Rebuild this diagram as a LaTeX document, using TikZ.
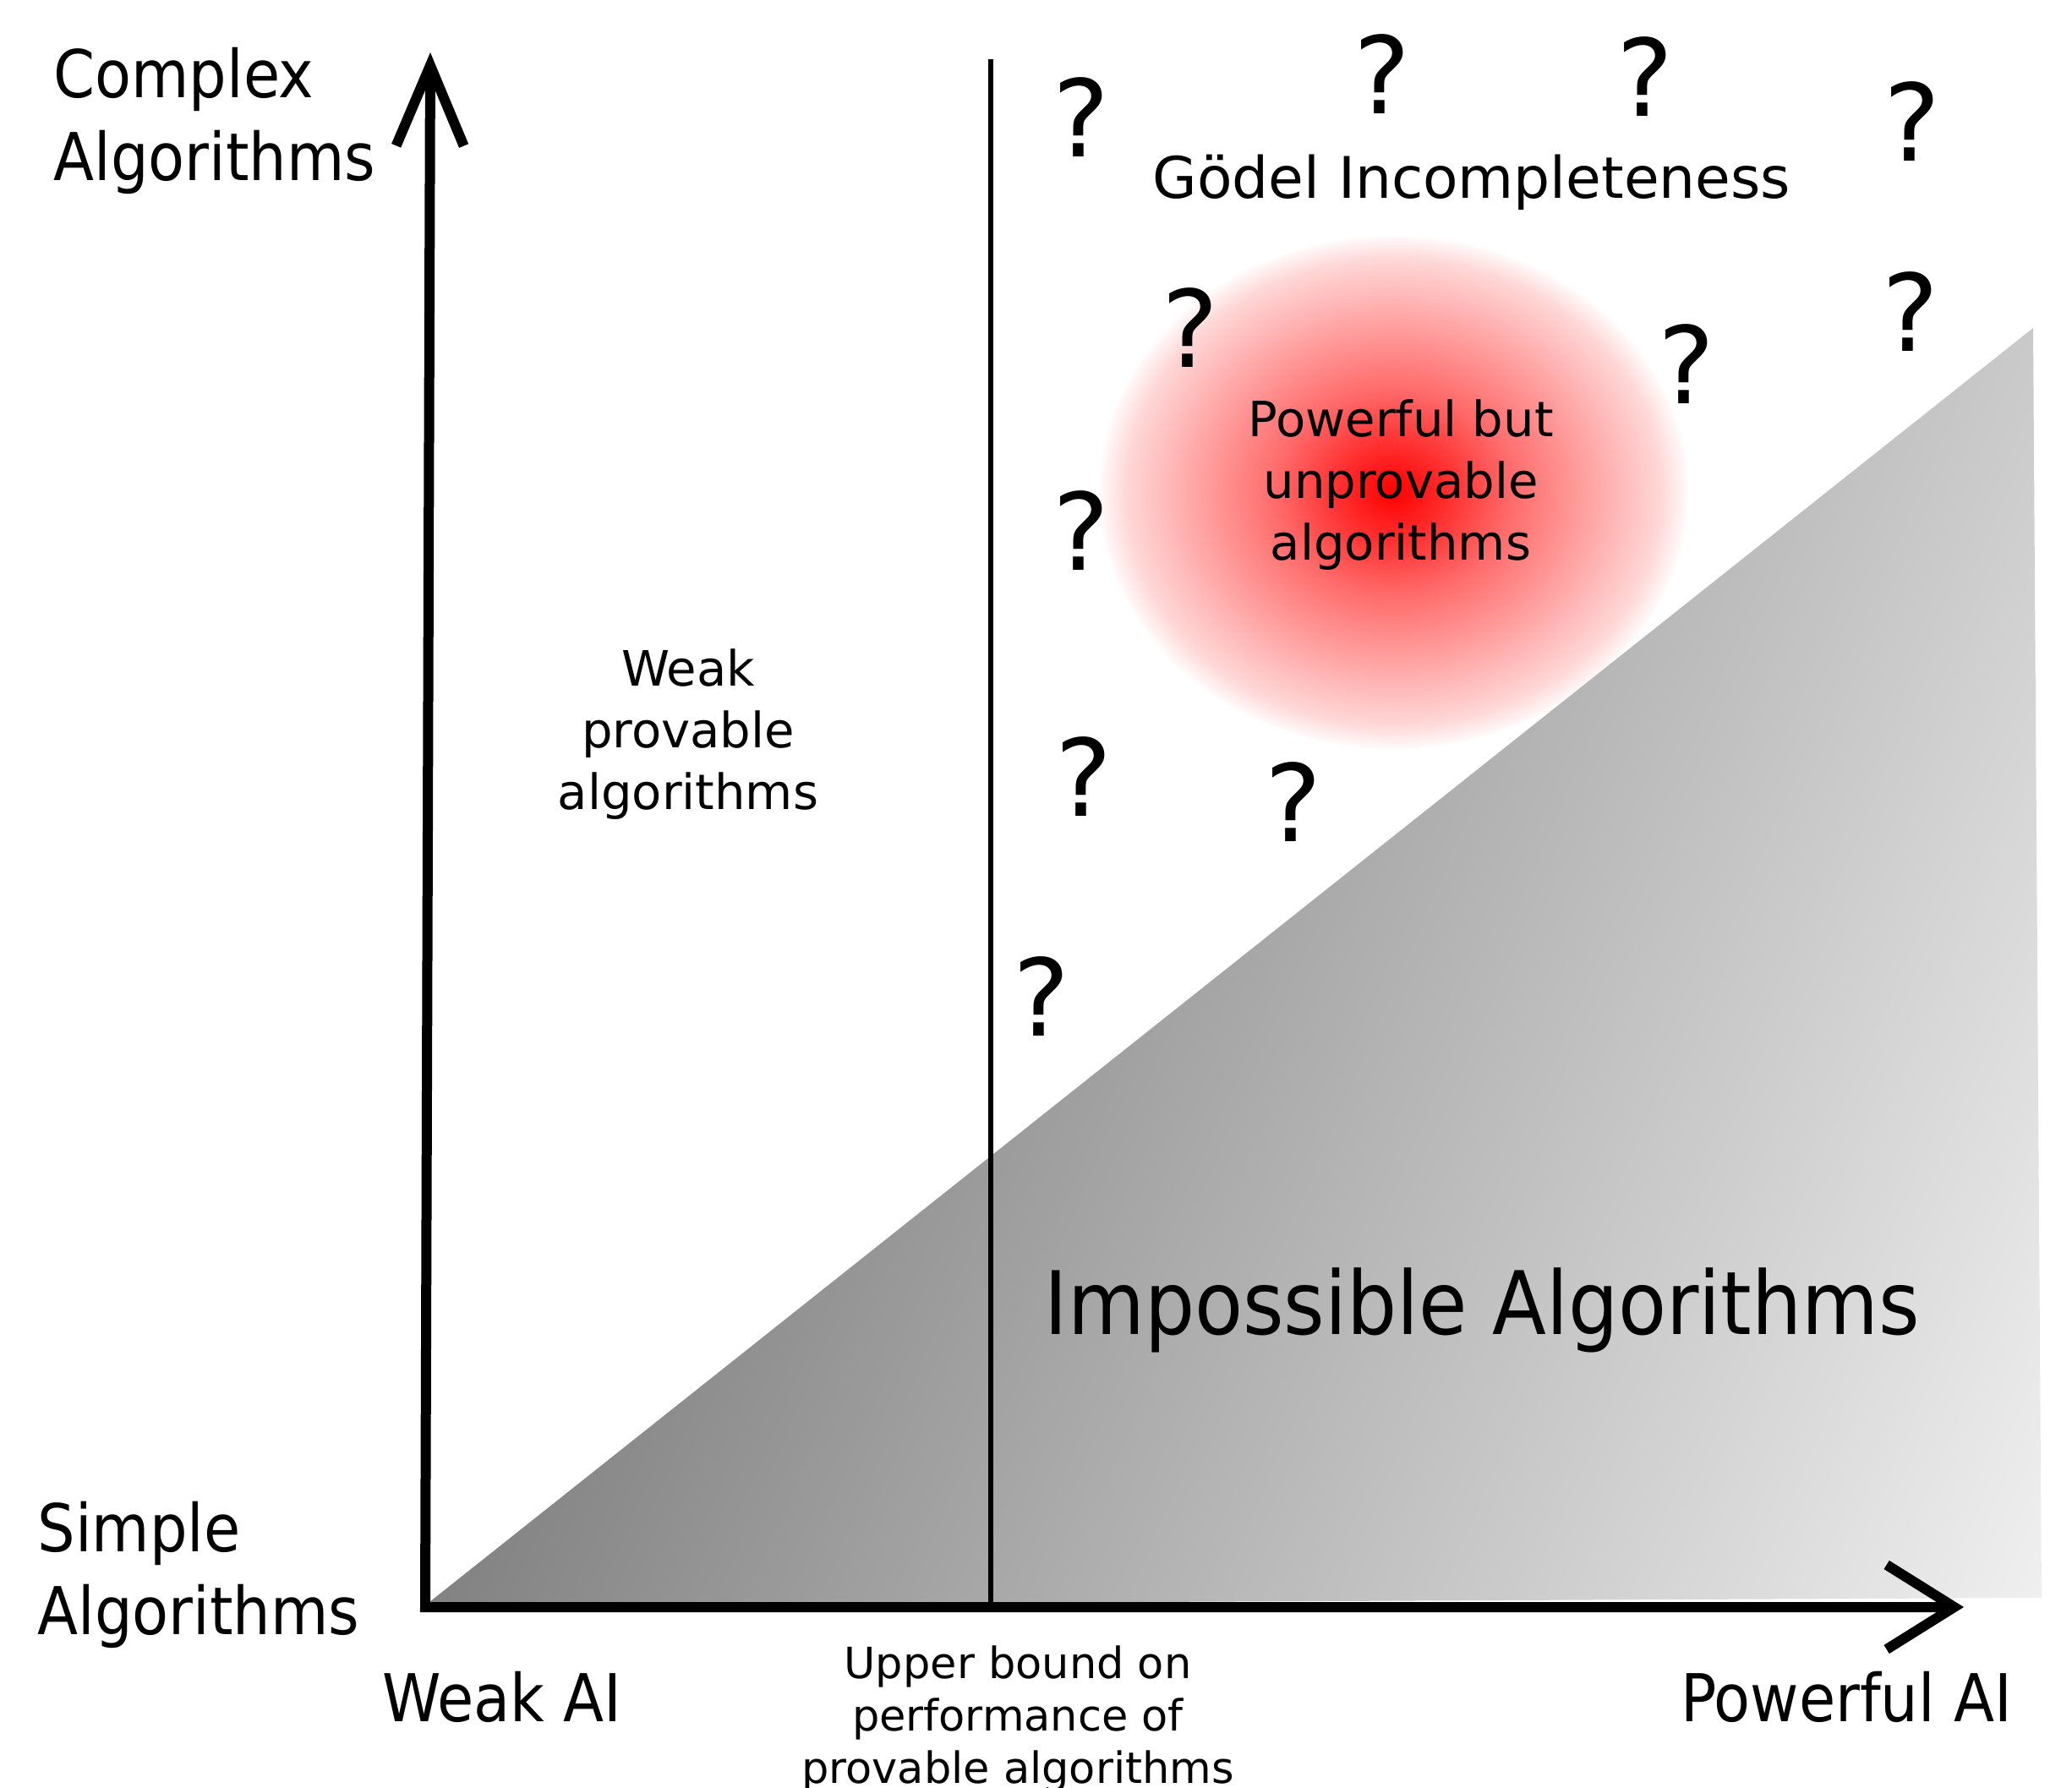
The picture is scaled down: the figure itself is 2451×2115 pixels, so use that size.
\documentclass[tikz,border=0pt]{standalone}
\usepackage{fontspec}
\setmainfont{DejaVu Sans}
\newfontfamily\condensed{DejaVu Sans Condensed}
\usetikzlibrary{positioning,arrows.meta,calc}
\definecolor{impdark}{gray}{0.51}
\definecolor{implight}{gray}{0.94}
\pgfdeclareradialshading{redblob}{\pgfpoint{0bp}{0bp}}{color(0bp)=(red); color(5bp)=(red!80!white); color(10bp)=(red!58!white); color(17.5bp)=(red!33!white); color(22.5bp)=(red!16!white); color(24.5bp)=(red!4!white); color(25bp)=(white); color(50bp)=(white)}
\tikzset{axes/.style={line width=1.2mm}}
\tikzset{bound/.style={line width=0.6mm}}
\tikzset{qmark/.style={inner sep=0pt,font=\fontsize{36}{36}\selectfont}}
\tikzset{axislabel/.style={inner sep=0pt,align=left,font=\condensed\fontsize{22.2}{27.7}\selectfont}}
\tikzset{smalltext/.style={inner sep=0pt,align=center,font=\fontsize{16.4}{20.8}\selectfont}}

\begin{document}
\begin{tikzpicture}[x=0.1mm,y=-0.1mm]
\useasboundingbox (0,0) rectangle (2451,2115);
\coordinate (origin) at (503,1901);
\coordinate (ytip) at (509,62);
\coordinate (xtip) at (2323,1901);
\coordinate (tri left) at (503,1899);
\coordinate (tri right) at (2415,1890);
\coordinate (tri top) at (2405,388);
\coordinate (limit top) at (1172,70);
\coordinate (limit bottom) at (1172,1895);

% unprovable region
\shade[shading=redblob] (1648,582) ellipse [x radius=35mm, y radius=30.5mm];

% impossible region
\begin{scope}
\clip (tri left) -- (tri right) -- (tri top) -- cycle;
\shade[left color=impdark,right color=implight,transform canvas={rotate around={-23.5:(origin)}}]
  ($(origin)+(0,60)$) rectangle ($(origin)+(1753,-2250)$);
\end{scope}

\draw[bound] (limit top) -- (limit bottom);
\draw[axes,{Straight Barb[length=9.5mm,width=8mm]}-{Straight Barb[length=8mm,width=10mm]}] (ytip) -- (origin) -- (xtip);

\node[axislabel,anchor=north west] (complex) at (63,56) {Complex\\Algorithms};
\node[axislabel,anchor=north west] (simple) at (44,1776) {Simple\\Algorithms};
\node[axislabel,anchor=north] (weak) at (594,1977) {Weak AI};
\node[axislabel,anchor=north] (powerful) at (2184,1977) {Powerful AI};

\node[smalltext,anchor=north] (weakprov) at (814,767) {Weak\\provable\\algorithms};
\node[smalltext,anchor=north] (unprov) at (1657,472) {Powerful but\\unprovable\\algorithms};
\node[smalltext,anchor=north,font=\fontsize{14.5}{17.6}\selectfont] (upper) at (1204,1946) {Upper bound on\\performance of\\provable algorithms};
\node[inner sep=0pt,anchor=north,font=\fontsize{19.3}{24}\selectfont] (goedel) at (1741,182) {Gödel Incompleteness};
\node[inner sep=0pt,anchor=north west,font=\condensed\fontsize{29.5}{36}\selectfont] (impossible) at (1235,1499) {Impossible Algorithms};

\foreach \qx/\qy [count=\i] in {1279/139,1635/88,1946/91,2262/144,1408/388,1995/431,2260/369,1279/628,1282/919,1530/949,1232/1179}
	\node[qmark] (q\i) at (\qx,\qy) {?};
\end{tikzpicture}
\end{document}
